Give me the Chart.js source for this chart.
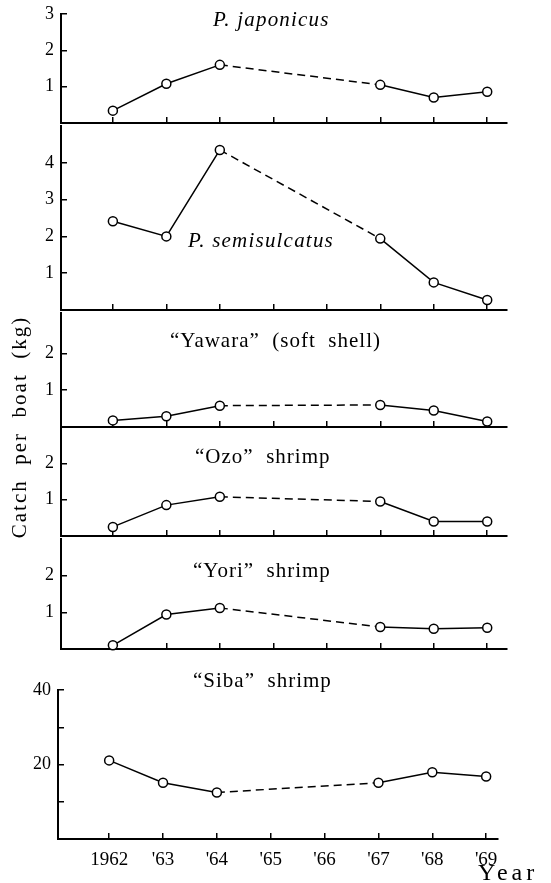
<!DOCTYPE html>
<html><head><meta charset="utf-8">
<script src="https://cdn.jsdelivr.net/npm/chart.js@4"></script>
<style>
html,body{margin:0;padding:0;background:#fff;}
#wrap{position:relative;width:551px;height:883px;overflow:hidden;background:#fff;}
#wrap canvas{position:absolute;left:0;}
</style></head><body>
<div id="wrap"></div>
<script>
// ---- data ----
const years = [1962, 1963, 1964, 1967, 1968, 1969];
const yearTicks = [1962, 1963, 1964, 1965, 1966, 1967, 1968, 1969];
const yearTickLabels = ['1962', "'63", "'64", "'65", "'66", "'67", "'68", "'69"];
const japonicus = [0.34, 1.08, 1.6, 1.05, 0.7, 0.86];
const semisulcatus = [2.41, 2.0, 4.35, 1.94, 0.75, 0.27];
const yawara = [0.18, 0.29, 0.58, 0.6, 0.45, 0.15];
const ozo = [0.25, 0.85, 1.08, 0.95, 0.4, 0.4];
const yori = [0.1, 0.94, 1.12, 0.6, 0.55, 0.58];
const siba = [21.1, 15.1, 12.5, 15.1, 17.9, 16.8];
const panelTitles = ['P. japonicus', 'P. semisulcatus', '\u201cYawara\u201d  (soft  shell)', '\u201cOzo\u201d  shrimp', '\u201cYori\u201d  shrimp', '\u201cSiba\u201d  shrimp'];
const xAxisTitle = 'Year';
const yAxisTitle = 'Catch  per  boat  (kg)';

const FONT = "'Liberation Serif', 'DejaVu Serif', serif";
Chart.defaults.font.family = FONT;
Chart.defaults.color = '#000';

const panels = [
  {values: japonicus, title: panelTitles[0], italic: true, tx: 213, ty: 26, top: 14, bottom: 126, ymax: 3, yticks: [1,2,3], ylabels: [1,2,3], left: 61, right: 507, xmin: 1961.03, xmax: 1969.37, xh: 3, showX: false},
  {values: semisulcatus, title: panelTitles[1], italic: true, tx: 188, ty: 247, top: 126, bottom: 313, ymax: 5, yticks: [1,2,3,4], ylabels: [1,2,3,4], left: 61, right: 507, xmin: 1961.03, xmax: 1969.37, xh: 3, showX: false},
  {values: yawara, title: panelTitles[2], italic: false, tx: 170, ty: 347, top: 313, bottom: 427, ymax: 3.1, yticks: [1,2], ylabels: [1,2], left: 61, right: 507, xmin: 1961.03, xmax: 1969.37, xh: 3, showX: false, extraBottom: 115, yTitle: true},
  {values: ozo, title: panelTitles[3], italic: false, tx: 195, ty: 463, top: 427, bottom: 539, ymax: 3.0, yticks: [1,2], ylabels: [1,2], left: 61, right: 507, xmin: 1961.03, xmax: 1969.37, xh: 3, showX: false},
  {values: yori, title: panelTitles[4], italic: false, tx: 193, ty: 577, top: 539, bottom: 652, ymax: 3.0, yticks: [1,2], ylabels: [1,2], left: 61, right: 507, xmin: 1961.03, xmax: 1969.37, xh: 3, showX: false},
  {values: siba, title: panelTitles[5], italic: false, tx: 193, ty: 687, top: 690, bottom: 839, ymax: 40, yticks: [10,20,30,40], ylabels: [20,40], left: 58, right: 498, xmin: 1961.05, xmax: 1969.22, xh: 44, showX: true, yearLabel: true}
];

const wrap = document.getElementById('wrap');
const PAD_TOP = 22;

panels.forEach(p => {
  const cv = document.createElement('canvas');
  const extra = p.extraBottom || 0;
  const h = p.bottom - p.top + PAD_TOP + p.xh + extra;
  const offset = p.top - PAD_TOP;
  cv.width = 551; cv.height = h;
  cv.style.width = '551px'; cv.style.height = h + 'px';
  cv.style.top = offset + 'px';
  wrap.appendChild(cv);

  const titlePlugin = {
    id: 'panelTitle',
    afterDraw(chart) {
      const ctx = chart.ctx;
      ctx.save();
      ctx.fillStyle = '#000';
      ctx.textAlign = 'left';
      ctx.textBaseline = 'alphabetic';
      ctx.font = (p.italic ? 'italic ' : '') + '21px ' + FONT;
      ctx.letterSpacing = p.italic ? '1.2px' : '1px';
      ctx.fillText(p.title, p.tx, p.ty - offset);
      if (p.yearLabel) {
        ctx.font = '24px ' + FONT;
        ctx.letterSpacing = '4px';
        ctx.fillText(xAxisTitle, 478, 880 - offset);
      }
      ctx.restore();
      if (p.yTitle) {
        ctx.save();
        ctx.fillStyle = '#000';
        ctx.font = '21px ' + FONT;
        ctx.letterSpacing = '2px';
        ctx.translate(20, 427 - offset);
        ctx.rotate(-Math.PI / 2);
        ctx.textAlign = 'center';
        ctx.textBaseline = 'middle';
        ctx.fillText(yAxisTitle, 0, 0);
        ctx.restore();
      }
    }
  };

  const gridOpts = {display: true, drawOnChartArea: false, drawTicks: true, tickLength: -6, color: '#000', lineWidth: 1.5};
  const borderOpts = {display: true, color: '#000', width: 2};

  new Chart(cv, {
    type: 'line',
    data: {
      datasets: [{
        data: years.map((x, i) => ({x: x, y: p.values[i]})),
        borderColor: '#000', borderWidth: 1.5, tension: 0,
        pointRadius: 4.5, pointBackgroundColor: '#fff', pointBorderColor: '#000', pointBorderWidth: 1.5,
        clip: false,
        segment: {borderDash: c => (c.p0.parsed.x === 1964 ? [8, 5] : undefined)}
      }]
    },
    options: {
      responsive: false, animation: false, devicePixelRatio: 1,
      layout: {padding: {top: PAD_TOP, right: 551 - p.right, left: 0, bottom: extra}},
      plugins: {legend: {display: false}, tooltip: {enabled: false}},
      scales: {
        x: {
          type: 'linear', min: p.xmin, max: p.xmax,
          afterBuildTicks: s => { s.ticks = yearTicks.map(v => ({value: v})); },
          afterFit: s => { s.height = p.xh; s.paddingLeft = 0; s.paddingRight = 0; },
          grid: gridOpts, border: borderOpts,
          ticks: {display: p.showX, padding: 16, color: '#000', font: {size: 19}, maxRotation: 0, autoSkip: false,
            callback: v => yearTickLabels[yearTicks.indexOf(v)]}
        },
        y: {
          type: 'linear', min: 0, max: p.ymax,
          afterBuildTicks: s => { s.ticks = p.yticks.map(v => ({value: v})); },
          afterFit: s => { s.width = p.left; s.paddingTop = 0; s.paddingBottom = 0; },
          grid: gridOpts, border: borderOpts,
          ticks: {padding: 13, color: '#000', font: {size: 18},
            callback: v => (p.ylabels.includes(v) ? String(v) : '')}
        }
      }
    },
    plugins: [titlePlugin]
  });
});
</script>
</body></html>
